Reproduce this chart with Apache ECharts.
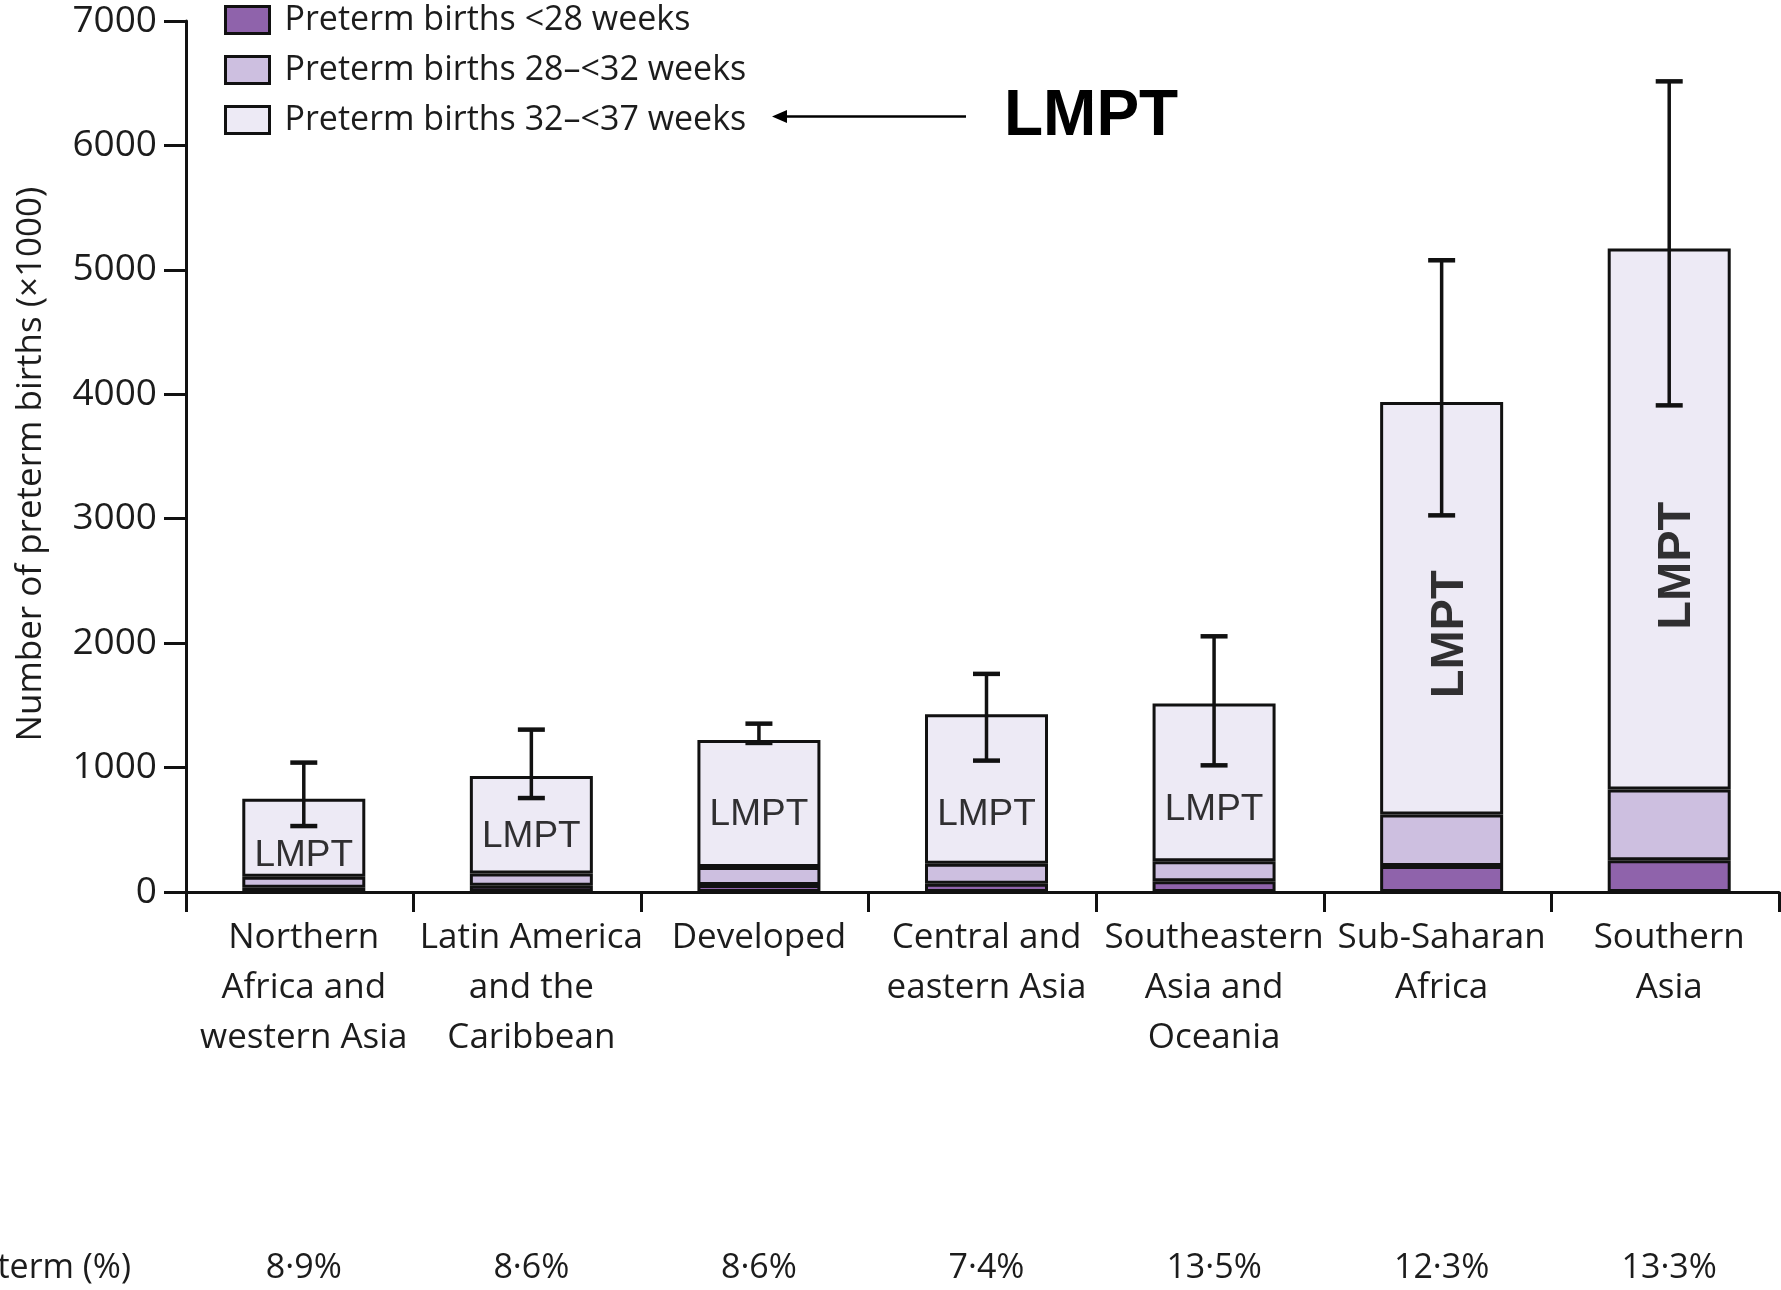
<!DOCTYPE html>
<html>
<head>
<meta charset="utf-8">
<title>Preterm births by region</title>
<script src="https://cdn.jsdelivr.net/npm/echarts@6/dist/echarts.min.js"></script>
<style>
  html, body { margin: 0; padding: 0; background: #ffffff; }
  #chart { width: 1781px; height: 1290px; }
</style>
</head>
<body>
<div id="chart"></div>
<script>
// Regions along the x axis
const categories = [
  'Northern\nAfrica and\nwestern Asia',
  'Latin America\nand the\nCaribbean',
  'Developed',
  'Central and\neastern Asia',
  'Southeastern\nAsia and\nOceania',
  'Sub-Saharan\nAfrica',
  'Southern\nAsia'
];

// Preterm birth rate per region
const pretermRate = ['8·9%', '8·6%', '8·6%', '7·4%', '13·5%', '12·3%', '13·3%'];

// Preterm births (x1000) by gestational age band
const under28 = [35, 50, 56, 67, 86, 209, 255];
const weeks28to32 = [88, 98, 144, 161, 161, 413, 568];
const weeks32to37 = [627, 784, 1022, 1200, 1267, 3316, 4348];

// Uncertainty range of the total (x1000)
const rangeLow = [530, 755, 1198, 1056, 1018, 3027, 3911];
const rangeHigh = [1040, 1305, 1353, 1753, 2055, 5077, 6515];

// Value at which each "LMPT" tag sits inside its bar
const lmptAnchor = [311, 456, 637, 635, 677, 2071, 2622];

const seriesNames = ['Preterm births <28 weeks', 'Preterm births 28–<32 weeks', 'Preterm births 32–<37 weeks'];
const seriesColors = ['#8f63ab', '#cdbfe0', '#edeaf5'];

const textFont = '"Open Sans", "Noto Sans", sans-serif';
const arialFont = '"Liberation Sans", Arial, sans-serif';
const ink = '#1c1c1c';

const totals = under28.map((v, i) => v + weeks28to32[i] + weeks32to37[i]);

const chart = echarts.init(document.getElementById('chart'), null, { renderer: 'canvas' });

const gridTop = 21, gridHeight = 871, gridWidth = 1593;

const barSeries = [under28, weeks28to32, weeks32to37].map((vals, k) => ({
  name: seriesNames[k],
  type: 'bar',
  stack: 'births',
  xAxisIndex: 1,
  yAxisIndex: 1,
  barWidth: 123,
  data: vals,
  itemStyle: { color: seriesColors[k], borderColor: '#111', borderWidth: 3 },
  emphasis: { disabled: true },
  z: 2
}));

const option = {
  animation: false,
  backgroundColor: '#ffffff',
  textStyle: { fontFamily: textFont },
  legend: {
    orient: 'vertical',
    left: 224,
    top: 0,
    padding: 0,
    itemWidth: 44,
    itemHeight: 27,
    itemGap: 10,
    icon: 'rect',
    data: seriesNames,
    itemStyle: { borderColor: '#111', borderWidth: 3 },
    textStyle: { fontFamily: textFont, fontSize: 34, color: ink, lineHeight: 40, padding: [0, 0, 0, 10] },
    selectedMode: false
  },
  grid: [
    { left: 186, top: gridTop, width: gridWidth, height: gridHeight, outerBoundsMode: 'none', containLabel: false },
    { left: 190, top: gridTop, width: gridWidth, height: gridHeight, outerBoundsMode: 'none', containLabel: false }
  ],
  xAxis: [
    {
      type: 'category',
      gridIndex: 0,
      data: categories,
      boundaryGap: true,
      axisLine: { lineStyle: { color: '#111', width: 3 } },
      axisTick: { show: true, length: 20, interval: 0, lineStyle: { color: '#111', width: 3 } },
      axisLabel: { show: false },
      splitLine: { show: false }
    },
    {
      type: 'category',
      gridIndex: 1,
      data: categories,
      axisLine: { show: false },
      axisTick: { show: false },
      axisLabel: {
        interval: 0, margin: 21,
        fontFamily: textFont, fontSize: 35, lineHeight: 50, color: ink
      }
    },
    {
      type: 'category',
      gridIndex: 1,
      position: 'bottom',
      data: pretermRate,
      axisLine: { show: false },
      axisTick: { show: false },
      axisLabel: {
        interval: 0, margin: 359,
        fontFamily: textFont, fontSize: 34, lineHeight: 34, color: ink
      }
    }
  ],
  yAxis: [
    {
      type: 'value',
      gridIndex: 0,
      min: 0, max: 7000, interval: 1000,
      axisLine: { show: true, lineStyle: { color: '#111', width: 3 } },
      axisTick: { show: true, length: 22, lineStyle: { color: '#111', width: 3 } },
      axisLabel: {
        margin: 29, fontFamily: textFont, fontSize: 37, color: ink,
        formatter: function (v) { return String(v); }
      },
      splitLine: { show: false }
    },
    {
      type: 'value',
      gridIndex: 1,
      min: 0, max: 7000, interval: 1000,
      axisLine: { show: false },
      axisTick: { show: false },
      axisLabel: { show: false },
      splitLine: { show: false }
    }
  ],
  series: [
    ...barSeries,
    {
      name: 'range',
      type: 'custom',
      xAxisIndex: 1,
      yAxisIndex: 1,
      z: 5,
      encode: { x: 0, y: [1, 2] },
      data: categories.map((c, i) => [i, rangeLow[i], rangeHigh[i]]),
      renderItem: function (params, api) {
        const top = api.coord([api.value(0), api.value(2)]);
        const bottom = api.coord([api.value(0), api.value(1)]);
        const hw = 13.5;
        const stroke = '#111';
        return {
          type: 'group',
          children: [
            { type: 'line', shape: { x1: top[0], y1: top[1], x2: bottom[0], y2: bottom[1] }, style: { stroke: stroke, lineWidth: 3.5 } },
            { type: 'line', shape: { x1: top[0] - hw, y1: top[1], x2: top[0] + hw, y2: top[1] }, style: { stroke: stroke, lineWidth: 4.5 } },
            { type: 'line', shape: { x1: bottom[0] - hw, y1: bottom[1], x2: bottom[0] + hw, y2: bottom[1] }, style: { stroke: stroke, lineWidth: 4.5 } }
          ]
        };
      }
    },
    {
      name: 'lmpt',
      type: 'scatter',
      xAxisIndex: 1,
      yAxisIndex: 1,
      z: 6,
      symbolSize: 1,
      itemStyle: { color: 'rgba(0,0,0,0)' },
      emphasis: { disabled: true },
      data: lmptAnchor.map((v, i) => {
        const tall = totals[i] > 3000;
        return {
          value: [i, v],
          label: tall
            ? { rotate: 90, offset: [0, 8], fontFamily: arialFont, fontWeight: 'bold', fontSize: 47 }
            : { rotate: 0, offset: [0, 2], fontFamily: arialFont, fontWeight: 'normal', fontSize: 37 }
        };
      }),
      label: {
        show: true,
        position: 'inside',
        formatter: 'LMPT',
        color: '#000',
        fontFamily: arialFont
      }
    }
  ],
  graphic: [
    {
      type: 'text',
      x: 31, y: 464,
      rotation: Math.PI / 2,
      style: {
        text: 'Number of preterm births (×1000)',
        fontFamily: textFont, fontSize: 35, fill: ink,
        align: 'center', verticalAlign: 'middle'
      }
    },
    {
      type: 'text',
      x: 131, y: 1268,
      style: {
        text: 'Preterm (%)',
        fontFamily: textFont, fontSize: 34, fill: ink,
        align: 'right', verticalAlign: 'middle'
      }
    },
    {
      type: 'line',
      shape: { x1: 782, y1: 116.5, x2: 966, y2: 116.5 },
      style: { stroke: '#000', lineWidth: 2.5 }
    },
    {
      type: 'polygon',
      shape: { points: [[772, 116.5], [787, 110], [787, 123]] },
      style: { fill: '#000' }
    },
    {
      type: 'text',
      x: 1004, y: 117,
      style: {
        text: 'LMPT',
        fontFamily: arialFont, fontWeight: 'bold', fontSize: 64, fill: '#000',
        align: 'left', verticalAlign: 'middle'
      }
    }
  ]
};

chart.setOption(option);
</script>
</body>
</html>
